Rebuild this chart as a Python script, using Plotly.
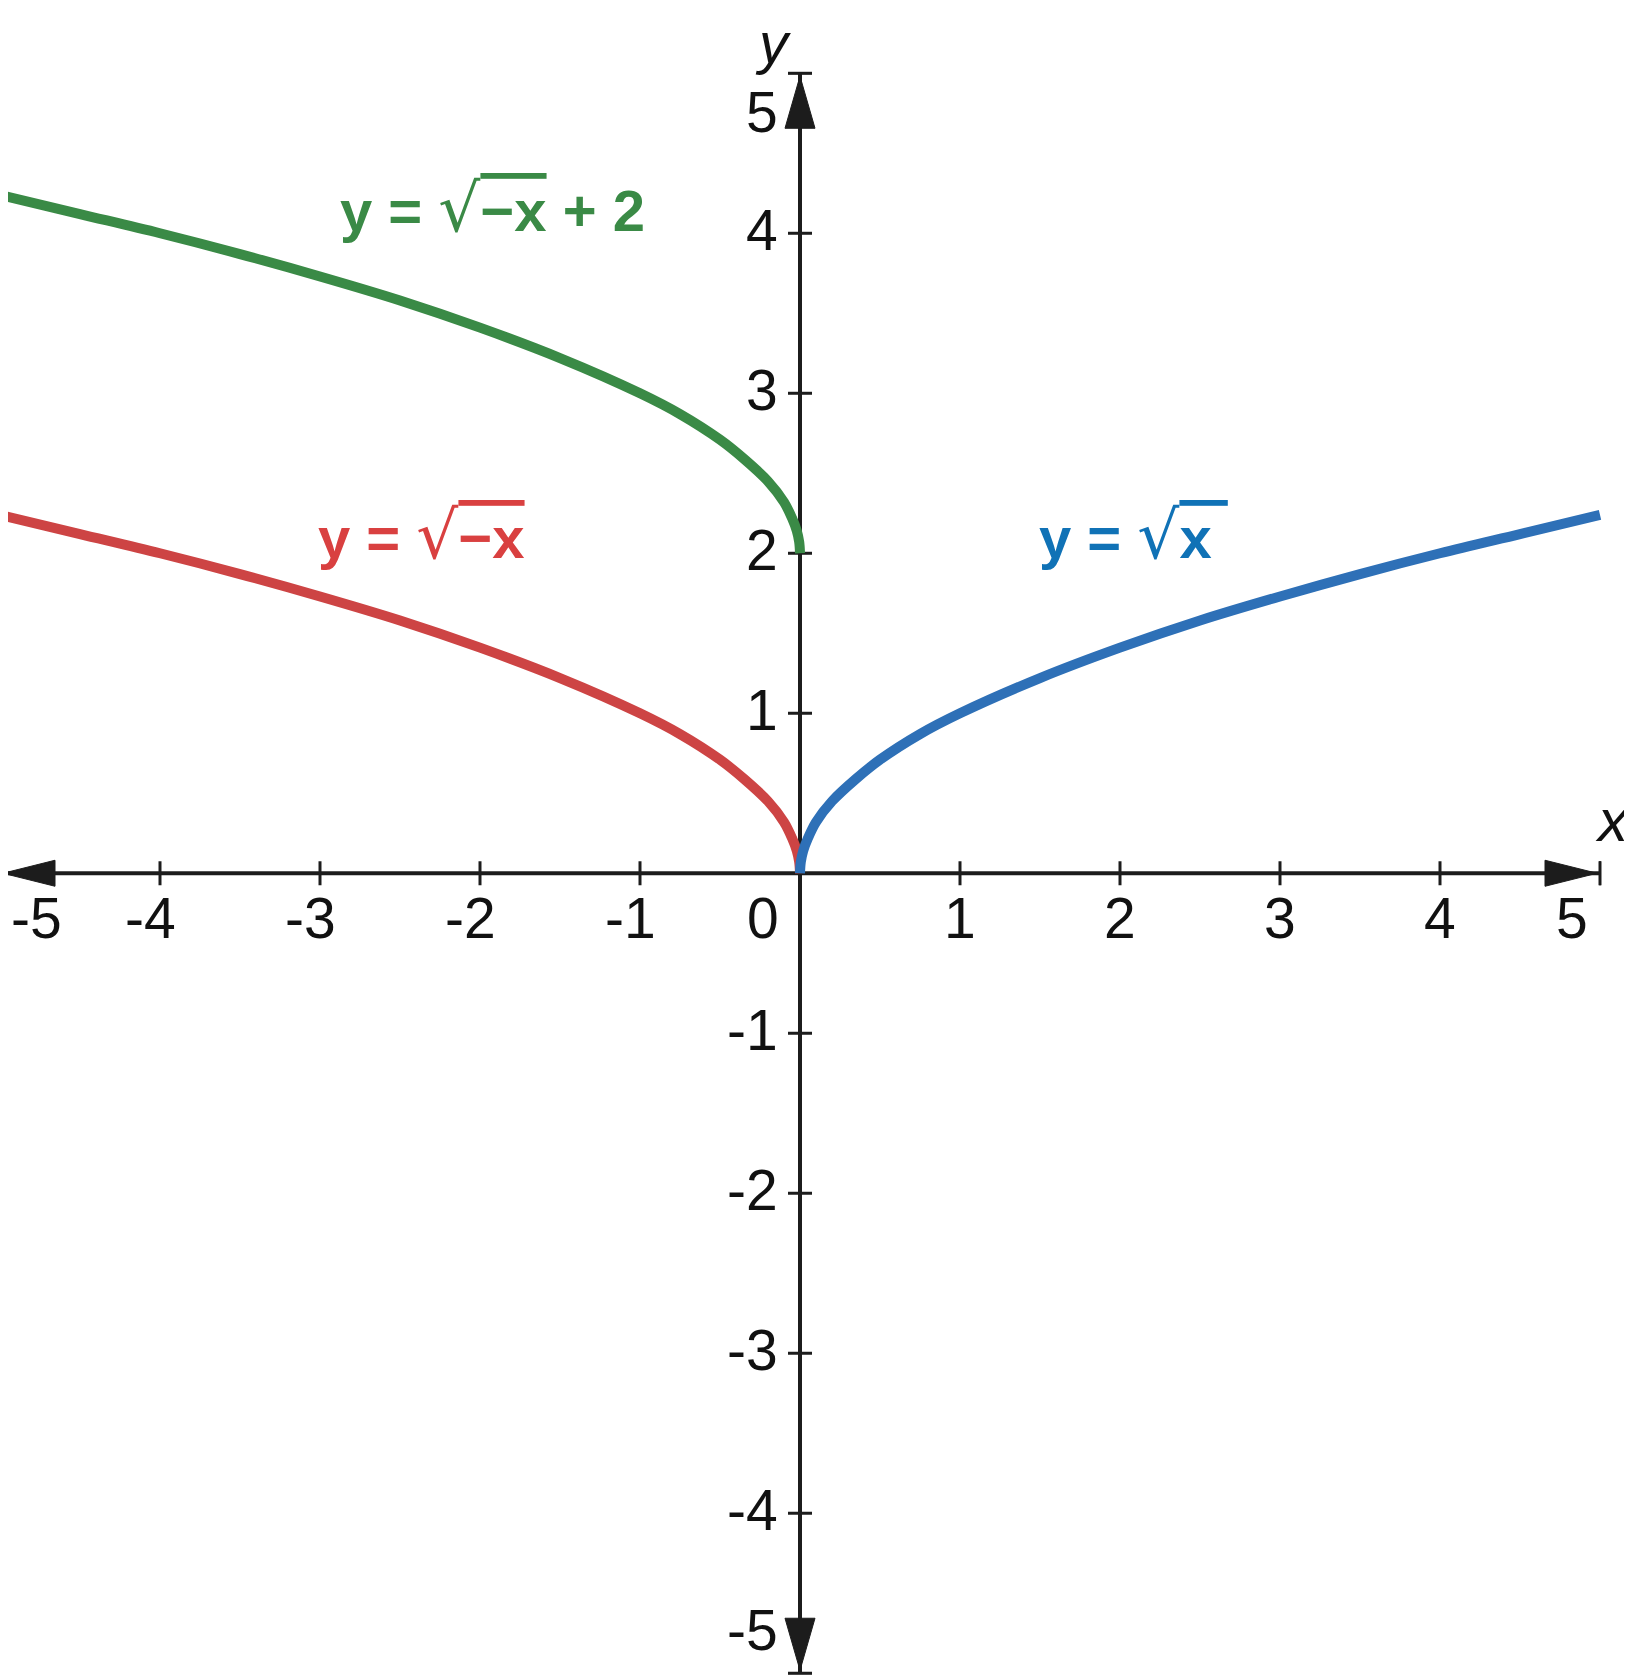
import plotly.graph_objects as go

# ---- data ----
x_right = [0, 0.005, 0.02, 0.05, 0.1, 0.2, 0.35, 0.5, 0.75, 1, 1.5, 2, 2.5, 3, 3.5, 4, 4.5, 5]
y_sqrt_x = [0, 0.07, 0.14, 0.22, 0.32, 0.45, 0.59, 0.71, 0.87, 1.0, 1.22, 1.41, 1.58, 1.73, 1.87, 2.0, 2.12, 2.24]

x_left = [0, -0.005, -0.02, -0.05, -0.1, -0.2, -0.35, -0.5, -0.75, -1, -1.5, -2, -2.5, -3, -3.5, -4, -4.5, -5]
y_sqrt_negx = [0, 0.07, 0.14, 0.22, 0.32, 0.45, 0.59, 0.71, 0.87, 1.0, 1.22, 1.41, 1.58, 1.73, 1.87, 2.0, 2.12, 2.24]
y_sqrt_negx_plus2 = [2.0, 2.07, 2.14, 2.22, 2.32, 2.45, 2.59, 2.71, 2.87, 3.0, 3.22, 3.41, 3.58, 3.73, 3.87, 4.0, 4.12, 4.24]

x_ticks = [-5, -4, -3, -2, -1, 1, 2, 3, 4, 5]
y_ticks = [-5, -4, -3, -2, -1, 1, 2, 3, 4, 5]
x_tick_labels = ["-5", "-4", "-3", "-2", "-1", "1", "2", "3", "4", "5"]
y_tick_labels = ["-5", "-4", "-3", "-2", "-1", "1", "2", "3", "4", "5"]

AX_MIN, AX_MAX = -5, 5
# page body has an 8px margin; ranges compensate so the drawing lands where the reference has it
X_RANGE = [-4.95, 5.2]
Y_RANGE = [-5.011, 5.408]

GREEN = "#3a8a46"
RED = "#cd4444"
BLUE = "#2e70b7"
AXIS = "#1c1c1c"
FONT = "Liberation Sans, Arial, sans-serif"

fig = go.Figure()
fig.add_trace(go.Scatter(x=x_left, y=y_sqrt_negx_plus2, mode="lines",
                         line=dict(color=GREEN, width=10, shape="spline"), hoverinfo="skip"))
fig.add_trace(go.Scatter(x=x_left, y=y_sqrt_negx, mode="lines",
                         line=dict(color=RED, width=10, shape="spline"), hoverinfo="skip"))
fig.add_trace(go.Scatter(x=x_right, y=y_sqrt_x, mode="lines",
                         line=dict(color=BLUE, width=10, shape="spline"), hoverinfo="skip"))

shapes = []
# axis lines
shapes.append(dict(type="line", xref="x", yref="y", x0=AX_MIN, x1=AX_MAX, y0=0, y1=0,
                   line=dict(color=AXIS, width=4), layer="below"))
shapes.append(dict(type="line", xref="x", yref="y", x0=0, x1=0, y0=AX_MIN, y1=AX_MAX,
                   line=dict(color=AXIS, width=4), layer="below"))
# tick marks
for t in x_ticks:
    shapes.append(dict(type="line", xref="x", yref="y", x0=t, x1=t, ysizemode="pixel", yanchor=0,
                       y0=-12, y1=12, line=dict(color=AXIS, width=3), layer="below"))
for t in y_ticks:
    shapes.append(dict(type="line", xref="x", yref="y", y0=t, y1=t, xsizemode="pixel", xanchor=0,
                       x0=-12, x1=12, line=dict(color=AXIS, width=3), layer="below"))
# arrowheads (pixel-sized, anchored to axis ends)
L, H = 52, 13
shapes.append(dict(type="path", xref="x", yref="y", xsizemode="pixel", xanchor=AX_MIN, ysizemode="pixel", yanchor=0,
                   path=f"M 3,0 L {3+L},{H} L {3+L},{-H} Z", fillcolor=AXIS, line=dict(color=AXIS, width=1)))
shapes.append(dict(type="path", xref="x", yref="y", xsizemode="pixel", xanchor=AX_MAX, ysizemode="pixel", yanchor=0,
                   path=f"M -3,0 L {-3-L},{H} L {-3-L},{-H} Z", fillcolor=AXIS, line=dict(color=AXIS, width=1)))
shapes.append(dict(type="path", xref="x", yref="y", xsizemode="pixel", xanchor=0, ysizemode="pixel", yanchor=AX_MAX,
                   path=f"M 0,-3 L {H+2},{-3-L} L {-H-2},{-3-L} Z", fillcolor=AXIS, line=dict(color=AXIS, width=1)))
shapes.append(dict(type="path", xref="x", yref="y", xsizemode="pixel", xanchor=0, ysizemode="pixel", yanchor=AX_MIN,
                   path=f"M 0,3 L {H+2},{3+L} L {-H-2},{3+L} Z", fillcolor=AXIS, line=dict(color=AXIS, width=1)))
# end caps
shapes.append(dict(type="line", xref="x", yref="y", x0=AX_MAX, x1=AX_MAX, ysizemode="pixel", yanchor=0,
                   y0=-12, y1=12, line=dict(color=AXIS, width=2)))
shapes.append(dict(type="line", xref="x", yref="y", y0=AX_MAX, y1=AX_MAX, xsizemode="pixel", xanchor=0,
                   x0=-12, x1=12, line=dict(color=AXIS, width=2)))
shapes.append(dict(type="line", xref="x", yref="y", y0=AX_MIN, y1=AX_MIN, xsizemode="pixel", xanchor=0,
                   x0=-12, x1=12, line=dict(color=AXIS, width=2)))

annotations = []
tick_font = dict(family=FONT, size=57, color="#111111")
for t, lab in zip(x_ticks, x_tick_labels):
    xpos = t
    xs = -10 if t < 0 else 0
    if t == AX_MIN:
        xpos, xs = t + 0.225, 0
    if t == AX_MAX:
        xs = -28
    annotations.append(dict(x=xpos, y=0, text=lab, showarrow=False, font=tick_font,
                            xanchor="center", yanchor="middle", xshift=xs, yshift=-45))
annotations.append(dict(x=0, y=0, text="0", showarrow=False, font=tick_font,
                        xanchor="center", yanchor="middle", xshift=-37, yshift=-45))
for t, lab in zip(y_ticks, y_tick_labels):
    ys = 3
    if t == AX_MAX:
        ys = -39
    if t == AX_MIN:
        ys = 43
    annotations.append(dict(x=0, y=t, text=lab, showarrow=False, font=tick_font,
                            xanchor="right", yanchor="middle", xshift=-20, yshift=ys))
# axis titles
annotations.append(dict(x=5.075, y=0.327, text="<i>x</i>", showarrow=False,
                        font=dict(family=FONT, size=60, color="#111111"), xanchor="center", yanchor="middle"))
annotations.append(dict(x=-0.169, y=5.264, text="<i>y</i>", showarrow=False, yshift=-11, borderpad=0,
                        font=dict(family=FONT, size=58, color="#111111"), xanchor="center", yanchor="middle"))
# curve labels
rad = "<span style='font-family:DejaVu Sans;font-weight:normal;font-size:66px'>√</span>"
ol = "<span style='text-decoration:overline'>"
annotations.append(dict(x=-2.89, y=4.152, text=f"<b>y = {rad}{ol}−x</span> + 2</b>", showarrow=False,
                        font=dict(family=FONT, size=58, color=GREEN), xanchor="left", yanchor="middle"))
annotations.append(dict(x=-3.025, y=2.114, text=f"<b>y = {rad}{ol}−x</span></b>", showarrow=False,
                        font=dict(family=FONT, size=58, color="#d94040"), xanchor="left", yanchor="middle"))
annotations.append(dict(x=1.48, y=2.114, text=f"<b>y = {rad}{ol}x </span></b>", showarrow=False,
                        font=dict(family=FONT, size=58, color="#1072b6"), xanchor="left", yanchor="middle"))

fig.update_layout(
    width=1624, height=1667,
    margin=dict(l=0, r=0, t=0, b=0),
    paper_bgcolor="white", plot_bgcolor="white",
    showlegend=False,
    xaxis=dict(range=X_RANGE, visible=False, fixedrange=True),
    yaxis=dict(range=Y_RANGE, visible=False, fixedrange=True),
    shapes=shapes, annotations=annotations,
)
fig.write_html("out.html")
